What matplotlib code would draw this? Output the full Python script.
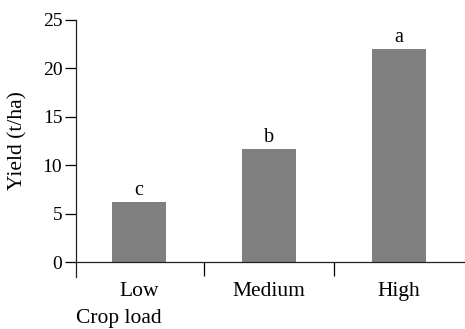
import numpy as np
import matplotlib
matplotlib.use("Agg")
import matplotlib.pyplot as plt

# donnees
categories = ["Low", "Medium", "High"]
yield_vals = [6.2, 11.7, 22.0]
letters = ["c", "b", "a"]

plt.rcParams['font.family'] = ['Liberation Serif', 'DejaVu Serif']

fig = plt.figure(figsize=(4.65, 3.29), dpi=100)
ax = fig.add_axes([75.5/465, (329-276.5)/329, (465-75.5)/465, 257/329])

x = np.arange(len(categories))
ax.bar(x, yield_vals, width=0.42, color='#808080', zorder=2)
for xi, v, l in zip(x, yield_vals, letters):
    ax.text(xi, v + 0.2, l, ha='center', va='bottom', fontsize=14.5)

ax.set_xlim(-0.488, 2.508)
ax.set_ylim(-1.45, 25)
ax.set_yticks([0, 5, 10, 15, 20, 25])
ax.tick_params(axis='y', length=8, width=0.9, labelsize=14, pad=1.5)

ax.spines['top'].set_visible(False)
ax.spines['right'].set_visible(False)
ax.spines['bottom'].set_position(('data', 0))
for s in ['left', 'bottom']:
    ax.spines[s].set_linewidth(0.9)
    ax.spines[s].set_color('#222222')

ax.set_xticks(x)
ax.set_xticklabels(categories)
ax.set_xticks([0.5, 1.5], minor=True)
ax.tick_params(axis='x', which='major', length=0, labelsize=15.5, pad=14)
ax.tick_params(axis='x', which='minor', length=10, width=0.9, direction='out')

fig.text(18/465, 1 - 140.5/329, "Yield (t/ha)", rotation=90, ha='center', va='center', fontsize=15.5)
fig.text(76/465, 1 - 318/329, "Crop load", ha='left', va='center', fontsize=15.5)

fig.savefig("out.png", dpi=100)
